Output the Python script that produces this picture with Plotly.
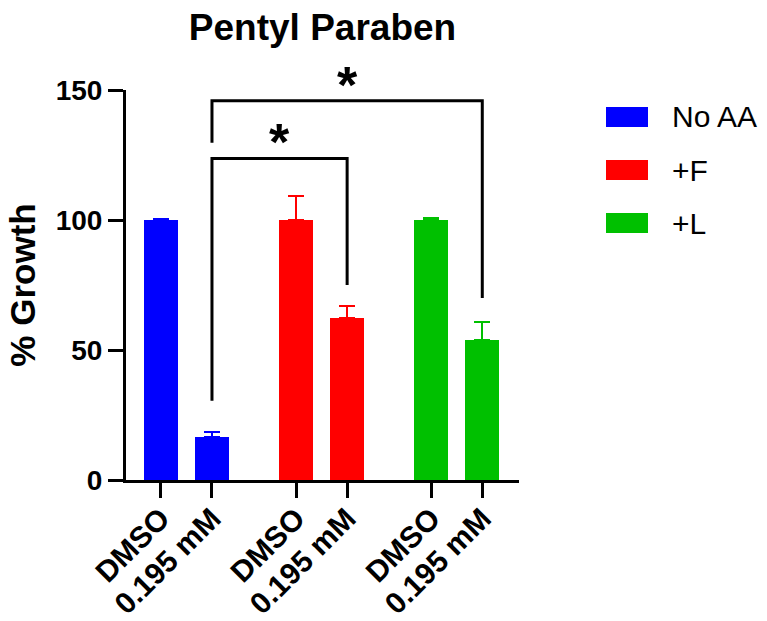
import plotly.graph_objects as go

# ---- data ----
groups = ["No AA", "+F", "+L"]
conditions = ["DMSO", "0.195 mM"]
colors = ["#0000FF", "#FF0000", "#00C000"]

no_aa_mean = [100.0, 16.7]
no_aa_err = [0.5, 1.9]
f_mean = [100.0, 62.2]
f_err = [9.3, 4.8]
l_mean = [100.0, 53.7]
l_err = [0.9, 7.2]

means = [no_aa_mean, f_mean, l_mean]
errs = [no_aa_err, f_err, l_err]

# significance brackets: (bar index a, bar index b, top, foot a, foot b, label)
brackets = [
    (1, 3, 123.7, 30.5, 75.0, "*"),
    (1, 5, 145.9, 129.7, 70.0, "*"),
]

# ---- layout helpers ----
group_gap = 2.65
positions = []
ticktext = []
for gi in range(len(groups)):
    for ci, cond in enumerate(conditions):
        positions.append(gi * group_gap + ci)
        ticktext.append(cond)

FONT = "Liberation Sans, Arial, sans-serif"

fig = go.Figure()

for gi, name in enumerate(groups):
    xs = positions[gi * 2: gi * 2 + 2]
    fig.add_trace(go.Bar(
        x=xs, y=means[gi], name=name,
        width=0.667,
        marker=dict(color=colors[gi], line=dict(width=0)),
        error_y=dict(type="data", array=errs[gi], arrayminus=[0] * len(errs[gi]),
                     symmetric=False, color=colors[gi], thickness=2, width=8),
        showlegend=False,
    ))

# brackets
for a, b, top, fa, fb, label in brackets:
    xa, xb = positions[a], positions[b]
    fig.add_trace(go.Scatter(
        x=[xa, xa, xb, xb], y=[fa, top, top, fb], mode="lines",
        line=dict(color="black", width=3), cliponaxis=False,
        showlegend=False, hoverinfo="skip",
    ))
    fig.add_annotation(
        x=(xa + xb) / 2, y=top, text="<b>" + label + "</b>", showarrow=False,
        yanchor="bottom", yshift=-15, font=dict(family=FONT, size=52, color="black"),
    )

# custom legend with wide swatches
L, R, T, B = 126, 248, 90, 141
W, H = 767, 621
pw, ph = W - L - R, H - T - B


def px_to_paper(px, py):
    return (px - L) / pw, (H - B - py) / ph


for i, name in enumerate(groups):
    cy = 117 + 53 * i
    x0, y0 = px_to_paper(606, cy - 10)
    x1, y1 = px_to_paper(648, cy + 10)
    fig.add_shape(type="rect", xref="paper", yref="paper",
                  x0=x0, x1=x1, y0=y1, y1=y0,
                  fillcolor=colors[i], line=dict(width=0))
    tx, ty = px_to_paper(670, cy)
    fig.add_annotation(xref="paper", yref="paper", x=tx, y=ty, text=name,
                       showarrow=False, xanchor="left", yanchor="middle",
                       font=dict(family=FONT, size=30, color="black"))

fig.update_layout(
    width=W, height=H,
    margin=dict(l=L, r=R, t=T, b=B),
    paper_bgcolor="white", plot_bgcolor="white",
    bargap=0,
    title=dict(text="<b>Pentyl Paraben</b>", x=(L + pw / 2) / W, xanchor="center",
               y=1 - 27 / H, yanchor="middle",
               font=dict(family=FONT, size=37, color="black")),
    font=dict(family=FONT, color="black"),
)

fig.update_xaxes(
    range=[-0.686, 7.02], automargin=False,
    tickvals=positions, ticktext=["<b>" + t + "</b>" for t in ticktext],
    tickangle=-45, tickfont=dict(family=FONT, size=30, color="black"),
    ticklabelstandoff=-9,
    ticks="outside", ticklen=15, tickwidth=3, tickcolor="black",
    showline=True, linewidth=3, linecolor="black",
    showgrid=False, zeroline=False,
)

fig.update_yaxes(
    range=[0, 150], automargin=False, tickvals=[0, 50, 100, 150],
    ticktext=["<b>0</b>", "<b>50</b>", "<b>100</b>", "<b>150</b>"],
    tickfont=dict(family=FONT, size=28, color="black"),
    ticks="outside", ticklen=15, tickwidth=3, tickcolor="black",
    showline=True, linewidth=3, linecolor="black",
    showgrid=False, zeroline=False,
    title=dict(text="<b>% Growth</b>", standoff=10,
               font=dict(family=FONT, size=35, color="black")),
)

fig.write_html("out.html")
